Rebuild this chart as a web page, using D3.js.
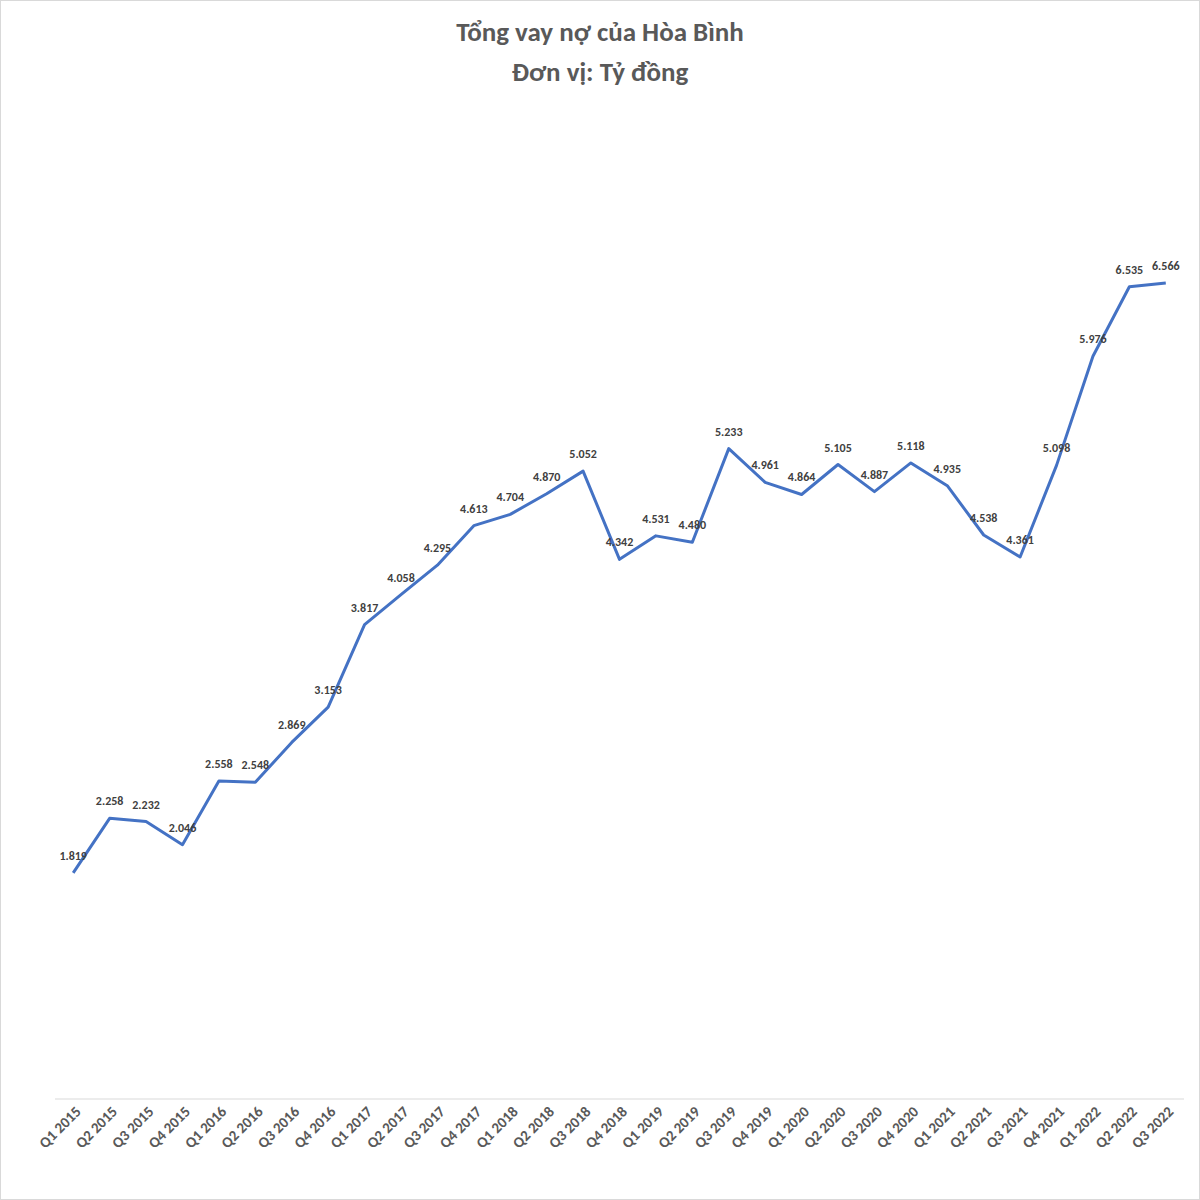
<!DOCTYPE html>
<html><head><meta charset="utf-8">
<script src="https://cdn.jsdelivr.net/npm/d3@7/dist/d3.min.js"></script>
<style>body{margin:0;background:#fff}</style></head>
<body><svg id="c" width="1200" height="1200"></svg>
<script>
const categories = ["Q1 2015","Q2 2015","Q3 2015","Q4 2015","Q1 2016","Q2 2016","Q3 2016","Q4 2016","Q1 2017","Q2 2017","Q3 2017","Q4 2017","Q1 2018","Q2 2018","Q3 2018","Q4 2018","Q1 2019","Q2 2019","Q3 2019","Q4 2019","Q1 2020","Q2 2020","Q3 2020","Q4 2020","Q1 2021","Q2 2021","Q3 2021","Q4 2021","Q1 2022","Q2 2022","Q3 2022"];
const values = [1.819,2.258,2.232,2.046,2.558,2.548,2.869,3.153,3.817,4.058,4.295,4.613,4.704,4.870,5.052,4.342,4.531,4.480,5.233,4.961,4.864,5.105,4.887,5.118,4.935,4.538,4.361,5.098,5.976,6.535,6.566];
const titleLines = ["Tổng vay nợ của Hòa Bình","Đơn vị: Tỷ đồng"];

const svg = d3.select("#c");
svg.append("rect").attr("x",0.5).attr("y",0.5).attr("width",1199).attr("height",1199).attr("fill","#fff").attr("stroke","#d9d9d9");
const x = d3.scalePoint().domain(categories).range([55,1184]).padding(0.5);
const y = d3.scaleLinear().domain([0,7]).range([1099,229]);

svg.selectAll("text.t").data(titleLines).join("text").attr("class","t")
  .attr("x",600).attr("y",(d,i)=>41+i*40).attr("text-anchor","middle")
  .attr("font-family","Calibri, Carlito, 'Open Sans', sans-serif").attr("font-weight","bold")
  .attr("font-size",27).attr("fill","#595959").text(d=>d);

svg.append("line").attr("x1",55).attr("x2",1184).attr("y1",1099).attr("y2",1099).attr("stroke","#d9d9d9");

svg.selectAll("text.xl").data(categories).join("text").attr("class","xl")
  .attr("transform",d=>`translate(${x(d)+6},${1110}) rotate(-45)`)
  .attr("text-anchor","end").attr("dominant-baseline","middle")
  .attr("font-family","Calibri, Carlito, 'Open Sans', sans-serif").attr("font-weight","bold")
  .attr("font-size",15).attr("fill","#595959").text(d=>d);

const line = d3.line().x((d,i)=>x(categories[i])).y(d=>y(d));
svg.append("path").datum(values).attr("d",line).attr("fill","none")
  .attr("stroke","#4472c4").attr("stroke-width",3).attr("stroke-linejoin","round");

svg.selectAll("text.v").data(values).join("text").attr("class","v")
  .attr("x",(d,i)=>x(categories[i])).attr("y",d=>y(d)-13).attr("text-anchor","middle")
  .attr("font-family","Calibri, Carlito, 'Open Sans', sans-serif").attr("font-weight","bold")
  .attr("font-size",12).attr("fill","#404040").text(d=>d.toFixed(3));
</script></body></html>
